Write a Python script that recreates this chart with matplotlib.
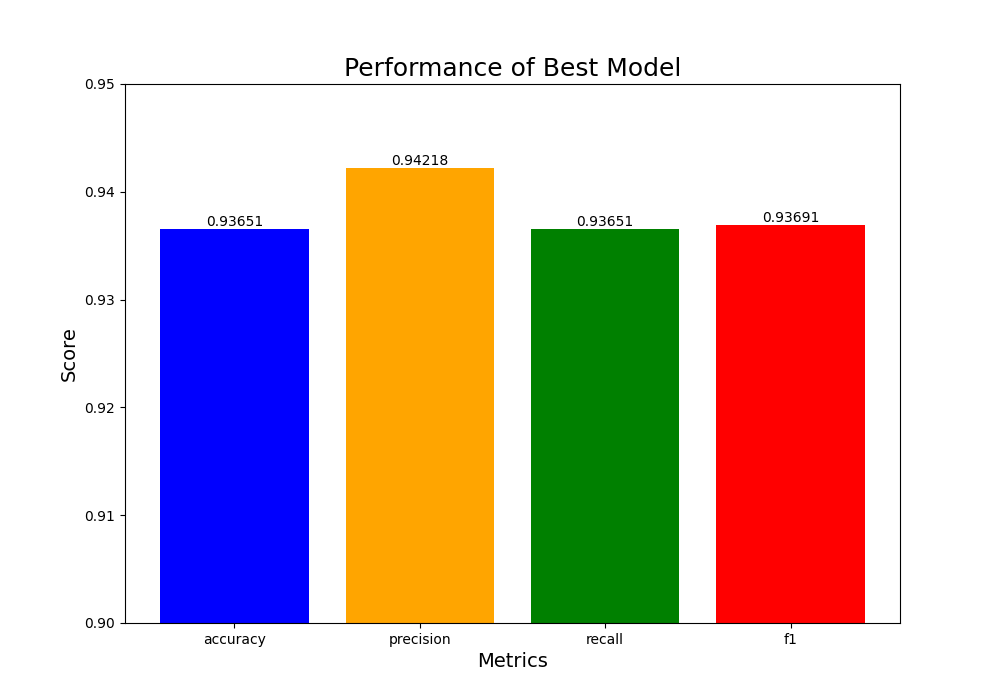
import matplotlib
matplotlib.use("Agg")
import matplotlib.pyplot as plt

metrics = ["accuracy", "precision", "recall", "f1"]
scores = [0.93651, 0.94218, 0.93651, 0.93691]
colors = ["blue", "orange", "green", "red"]

fig, ax = plt.subplots(figsize=(10, 7), dpi=100)
bars = ax.bar(metrics, scores, color=colors)
for b, v in zip(bars, scores):
    ax.text(b.get_x() + b.get_width() / 2, v, f"{v:.5f}", ha="center", va="bottom", fontsize=10)
ax.set_ylim(0.90, 0.95)
ax.set_title("Performance of Best Model", fontsize=18)
ax.set_xlabel("Metrics", fontsize=14)
ax.set_ylabel("Score", fontsize=14)
fig.savefig("out.png")
